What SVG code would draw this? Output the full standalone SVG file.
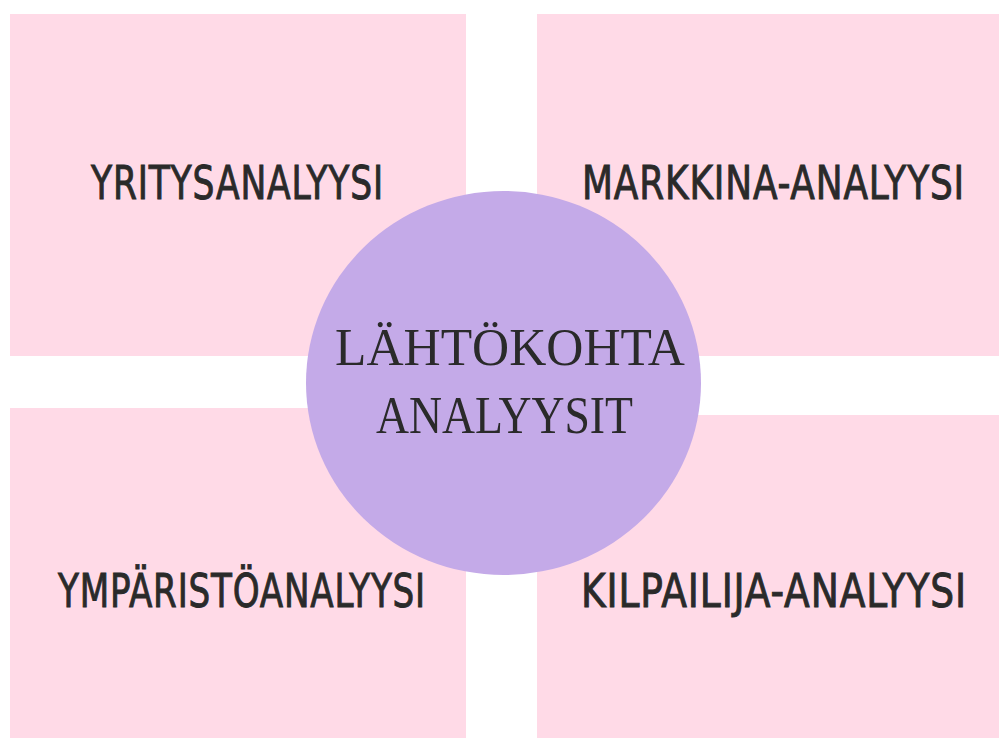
<svg xmlns="http://www.w3.org/2000/svg" width="999" height="738" viewBox="0 0 999 738">
<style>
.box{fill:#FFDAE7}
.lbl{font-family:"DejaVu Sans","Liberation Sans",sans-serif;font-stretch:condensed;font-size:46px;fill:#2a2a2a;stroke:#2a2a2a;stroke-width:0.9px;letter-spacing:1px}
.mid{font-family:"Liberation Serif","DejaVu Serif",serif;font-size:53px;fill:#2a2a2a;text-anchor:middle}
</style>
<rect width="999" height="738" fill="#ffffff"/>
<g id="yritys">
<rect class="box" x="10" y="14" width="456" height="342"/>
<text class="lbl" x="91" y="199" textLength="293" lengthAdjust="spacingAndGlyphs">YRITYSANALYYSI</text>
</g>
<g id="markkina">
<rect class="box" x="537" y="14" width="462" height="342"/>
<text class="lbl" x="582" y="199" textLength="383" lengthAdjust="spacingAndGlyphs">MARKKINA-ANALYYSI</text>
</g>
<g id="ymparisto">
<rect class="box" x="10" y="408" width="456" height="330"/>
<text class="lbl" x="58" y="607" textLength="368" lengthAdjust="spacingAndGlyphs">YMPÄRISTÖANALYYSI</text>
</g>
<g id="kilpailija">
<rect class="box" x="537" y="415" width="462" height="323"/>
<text class="lbl" x="581" y="607" textLength="386" lengthAdjust="spacingAndGlyphs">KILPAILIJA-ANALYYSI</text>
</g>
<g id="connectors"></g>
<g id="lahtokohta">
<ellipse cx="503.5" cy="383" rx="197.5" ry="192" fill="#C4AAE8"/>
<text class="mid" x="510" y="365" textLength="350" lengthAdjust="spacingAndGlyphs">LÄHTÖKOHTA</text>
<text class="mid" x="504.5" y="433" textLength="257" lengthAdjust="spacingAndGlyphs">ANALYYSIT</text>
</g>
</svg>
